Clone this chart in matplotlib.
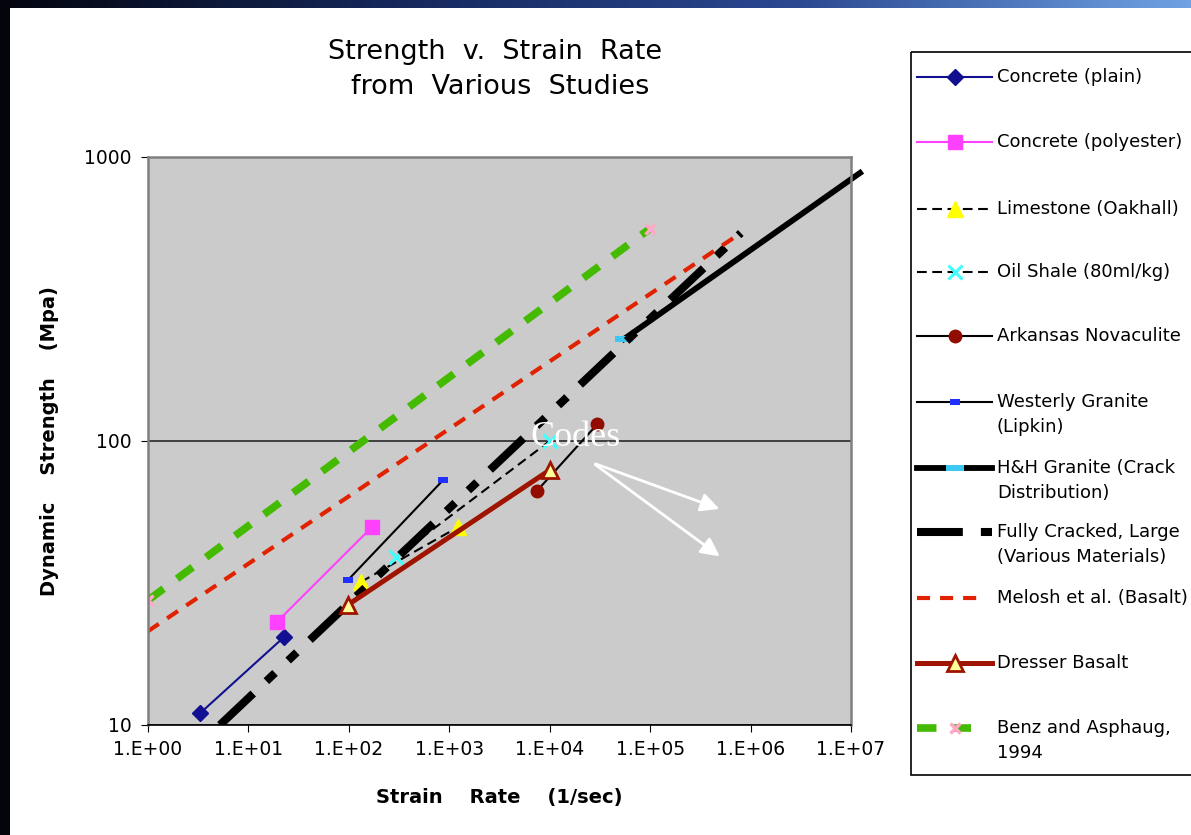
import numpy as np
import matplotlib
matplotlib.use('Agg')
import matplotlib.pyplot as plt
from matplotlib.ticker import FixedLocator, FuncFormatter, NullLocator
from matplotlib.colors import LinearSegmentedColormap
from matplotlib.patches import Rectangle

plt.rcParams['font.family'] = ['DejaVu Sans']
plt.rcParams['lines.scale_dashes'] = False

# ---- data (strain rate 1/s, strength MPa) ----
concrete_plain_x = [3.3, 22.6]
concrete_plain_y = [11.0, 20.4]
concrete_poly_x = [19.3, 170]
concrete_poly_y = [23.1, 49.8]
limestone_x = [132, 1230]
limestone_y = [31.9, 49.8]
oil_shale_x = [295, 10000]
oil_shale_y = [39, 100]
novaculite_x = [7450, 29700]
novaculite_y = [66.7, 114.5]
westerly_x = [98, 870]
westerly_y = [32.4, 72.9]
hh_granite_x = [55000, 1.23e7]
hh_granite_y = [228.6, 879]
fully_cracked_x = [5.2, 8.0e5]
fully_cracked_y = [10, 540]
melosh_x = [1, 8.0e5]
melosh_y = [21.4, 540]
dresser_x = [98, 10000]
dresser_y = [26.5, 79]
benz_x = [1, 1e5]
benz_y = [27.5, 560]

x_ticks = [1e0, 1e1, 1e2, 1e3, 1e4, 1e5, 1e6, 1e7]
y_ticks = [10, 100, 1000]

legend_labels = [
    ['Concrete (plain)'],
    ['Concrete (polyester)'],
    ['Limestone (Oakhall)'],
    ['Oil Shale (80ml/kg)'],
    ['Arkansas Novaculite'],
    ['Westerly Granite', '(Lipkin)'],
    ['H&H Granite (Crack', 'Distribution)'],
    ['Fully Cracked, Large', '(Various Materials)'],
    ['Melosh et al. (Basalt)'],
    ['Dresser Basalt'],
    ['Benz and Asphaug,', '1994'],
]

# annotation (arrows from the "Codes" note)
codes_pos = (17900, 103)
arrow_start = (27000, 83.7)
arrow_ends = [(5.2e5, 57.2), (5.2e5, 38.7)]

# ---- styles ----
rect_small = [(-1, -0.55), (1, -0.55), (1, 0.55), (-1, 0.55)]
rect_wide = [(-1, -0.3), (1, -0.3), (1, 0.3), (-1, 0.3)]
thin_dash = (0, (7, 4))
full_dash = (0, (33, 13, 8.6, 13, 8.6, 13))
styles = [
    dict(color='#101090', lw=1.5, marker='D', ms=8, mfc='#101090', mec='#101090'),
    dict(color='#FF40FF', lw=1.5, marker='s', ms=10, mfc='#FF40FF', mec='#FF40FF'),
    dict(color='black', lw=1.5, ls=thin_dash, marker='^', ms=12, mfc='#FFFF00', mec='#FFFF00'),
    dict(color='black', lw=1.5, ls=thin_dash, marker='x', ms=10, mew=2.2, mec='#40FFFF'),
    dict(color='black', lw=1.5, marker='o', ms=9, mfc='#920C00', mec='#920C00'),
    dict(color='black', lw=1.5, marker=rect_small, ms=7, mfc='#2030FF', mec='#2030FF', mew=0),
    dict(color='black', lw=4.2, marker=rect_wide, ms=13, mfc='#3CC8F0', mec='#3CC8F0', mew=0,
         markevery=[0]),
    dict(color='black', lw=5.8, ls=full_dash),
    dict(color='#E02200', lw=3.0, ls=(0, (9.4, 7.2))),
    dict(color='#9E1400', lw=3.6, marker='^', ms=12, mfc='#FFFF99', mec='#9E1400', mew=2),
    dict(color='#44BB00', lw=5.5, ls=(0, (14, 12)), marker='x', ms=7, mew=2.5, mec='#FFA8C8'),
]
series = [
    (concrete_plain_x, concrete_plain_y),
    (concrete_poly_x, concrete_poly_y),
    (limestone_x, limestone_y),
    (oil_shale_x, oil_shale_y),
    (novaculite_x, novaculite_y),
    (westerly_x, westerly_y),
    (hh_granite_x, hh_granite_y),
    (fully_cracked_x, fully_cracked_y),
    (melosh_x, melosh_y),
    (dresser_x, dresser_y),
    (benz_x, benz_y),
]

W, H = 1191, 835
fig = plt.figure(figsize=(W / 100, H / 100), dpi=100)
fig.patch.set_facecolor('white')

ax = fig.add_axes([148 / W, 1 - 725 / H, 703 / W, 568 / H])
ax.set_facecolor('#CBCBCB')
ax.set_xscale('log')
ax.set_yscale('log')
ax.set_xlim(1, 1e7)
ax.set_ylim(10, 1000)

for (xs, ys), st in zip(series, styles):
    line, = ax.plot(xs, ys, dash_capstyle='butt', **st)
    if xs is hh_granite_x:
        line.set_clip_on(False)

ax.xaxis.set_major_locator(FixedLocator(x_ticks))
ax.yaxis.set_major_locator(FixedLocator(y_ticks))
ax.xaxis.set_minor_locator(NullLocator())
ax.yaxis.set_minor_locator(NullLocator())
ax.xaxis.set_major_formatter(FuncFormatter(lambda v, p: '1.E+%02d' % round(np.log10(v))))
ax.yaxis.set_major_formatter(FuncFormatter(lambda v, p: '%d' % round(v)))
ax.tick_params(axis='both', direction='out', labelsize=13.5, colors='black')
ax.tick_params(axis='x', length=5, pad=6)
ax.tick_params(axis='y', length=5, pad=7)
ax.yaxis.grid(True, color='#404040', lw=1.4)
ax.set_axisbelow(True)
for side in ['left', 'top', 'right']:
    ax.spines[side].set_color('#808080')
    ax.spines[side].set_linewidth(1.8)
ax.spines['bottom'].set_color('black')
ax.spines['bottom'].set_linewidth(1.2)

ax.set_xlabel('Strain    Rate    (1/sec)', fontsize=14, fontweight='bold', labelpad=21)
ax.set_ylabel('Dynamic    Strength    (Mpa)', fontsize=14, fontweight='bold', labelpad=18)

ax.text(codes_pos[0], codes_pos[1], 'Codes', color='white', fontsize=26,
        family='Liberation Serif', ha='center', va='center')
for end in arrow_ends:
    ax.annotate('', xy=end, xytext=arrow_start,
                arrowprops=dict(arrowstyle='-|>', color='white', lw=2, mutation_scale=28))

fig.text(495 / W, 1 - 52 / H, 'Strength  v.  Strain  Rate', ha='center', va='center', fontsize=19.5)
fig.text(500 / W, 1 - 87 / H, 'from  Various  Studies', ha='center', va='center', fontsize=19.5)

# ---- overlay in pixel coordinates: frame decoration and legend ----
ov = fig.add_axes([0, 0, 1, 1], zorder=5)
ov.axis('off')
ov.patch.set_alpha(0)

band = LinearSegmentedColormap.from_list('band', ['#04060f', '#15285c', '#2a4790', '#6fa2e0'])
ov.imshow(np.linspace(0, 1, 256)[None, :], cmap=band, extent=(0, W, 8, 0), aspect='auto')
ov.add_patch(Rectangle((0, 0), 10, H, color='#03040c', lw=0))
ov.set_xlim(0, W)
ov.set_ylim(H, 0)

ov.add_patch(Rectangle((911, 52), 300, 723, fill=False, ec='black', lw=1.2, clip_on=False))
entry_y = [77, 142, 209, 272, 336, 402, 468, 532, 598, 663, 728]
handle_end = [992, 992, 992, 992, 992, 992, 992, 992, 978, 992, 971]
for lines, st, ey, xe in zip(legend_labels, styles, entry_y, handle_end):
    st2 = dict(st)
    st2.pop('markevery', None)
    mk = st2.pop('marker', None)
    ms = st2.pop('ms', None)
    mk_kw = {k: st2.pop(k) for k in ['mfc', 'mec', 'mew'] if k in st2}
    ov.plot([917, xe], [ey, ey], dash_capstyle='butt', **st2)
    if mk is not None:
        ov.plot([955], [ey], ls='none', marker=mk, ms=ms, **mk_kw)
    for i, txt in enumerate(lines):
        ov.text(997, ey + 25 * i, txt, fontsize=13, ha='left', va='center')

fig.savefig('out.png', dpi=100)
